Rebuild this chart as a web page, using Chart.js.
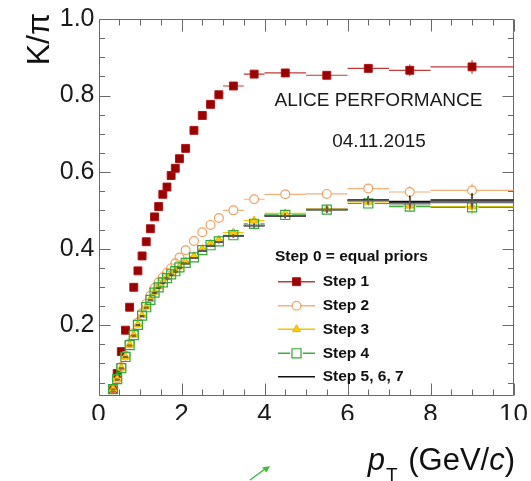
<!DOCTYPE html>
<html>
<head>
<meta charset="utf-8">
<script src="https://cdn.jsdelivr.net/npm/chart.js"></script>
<style>
  html, body { margin: 0; padding: 0; background: #ffffff; }
  #wrap { width: 531px; height: 481px; }
</style>
</head>
<body>
<div id="wrap"><canvas id="c" width="531" height="481"></canvas></div>
<script>
// pT bin edges (GeV/c); one value per bin in every series below
const binEdges = [0.3, 0.4, 0.5, 0.6, 0.7, 0.8, 0.9, 1.0, 1.1, 1.2, 1.3, 1.4, 1.5, 1.6, 1.7, 1.8, 1.9, 2.0,
                  2.2, 2.4, 2.6, 2.8, 3.0, 3.5, 4.0, 5.0, 6.0, 7.0, 8.0, 10.0];

// K/pi ratio after each Bayesian prior iteration
const step1 = [0.033, 0.074, 0.131, 0.187, 0.247, 0.299, 0.342, 0.381, 0.418, 0.452, 0.483, 0.510, 0.542, 0.561, 0.591, 0.610, 0.635,
               0.662, 0.709, 0.748, 0.777, 0.802, 0.825, 0.856, 0.859, 0.853, 0.871, 0.866, 0.875];
const step2 = [0.034, 0.061, 0.091, 0.120, 0.152, 0.179, 0.207, 0.232, 0.256, 0.277, 0.297, 0.312, 0.325, 0.337, 0.349, 0.362, 0.377,
               0.396, 0.420, 0.443, 0.462, 0.480, 0.500, 0.529, 0.542, 0.543, 0.557, 0.548, 0.552];
const step3 = [0.034, 0.060, 0.089, 0.118, 0.149, 0.175, 0.202, 0.226, 0.248, 0.268, 0.287, 0.301, 0.314, 0.325, 0.335, 0.343, 0.353,
               0.366, 0.380, 0.399, 0.413, 0.423, 0.442, 0.473, 0.492, 0.503, 0.522, 0.512, 0.510];
const step4 = [0.033, 0.059, 0.088, 0.117, 0.148, 0.174, 0.201, 0.225, 0.247, 0.266, 0.285, 0.299, 0.312, 0.323, 0.333, 0.341, 0.351,
               0.363, 0.377, 0.396, 0.409, 0.419, 0.435, 0.465, 0.488, 0.502, 0.518, 0.510, 0.508];
const step5 = [0.032, 0.058, 0.087, 0.116, 0.147, 0.173, 0.200, 0.224, 0.246, 0.265, 0.284, 0.298, 0.311, 0.322, 0.332, 0.340, 0.350,
               0.361, 0.375, 0.394, 0.407, 0.417, 0.433, 0.460, 0.485, 0.502, 0.527, 0.523, 0.527];
const step6 = [0.032, 0.058, 0.087, 0.116, 0.147, 0.173, 0.200, 0.224, 0.246, 0.265, 0.284, 0.298, 0.311, 0.322, 0.332, 0.340, 0.350,
               0.361, 0.375, 0.394, 0.407, 0.417, 0.433, 0.461, 0.486, 0.502, 0.526, 0.520, 0.524];
const step7 = [0.032, 0.058, 0.087, 0.116, 0.147, 0.173, 0.200, 0.224, 0.246, 0.265, 0.284, 0.298, 0.311, 0.322, 0.332, 0.340, 0.350,
               0.361, 0.375, 0.394, 0.407, 0.417, 0.433, 0.461, 0.486, 0.502, 0.525, 0.517, 0.520];

// statistical uncertainty per bin
const statErr = [0.001, 0.001, 0.001, 0.001, 0.001, 0.001, 0.001, 0.001, 0.001, 0.001, 0.001, 0.001, 0.001, 0.001, 0.001, 0.002, 0.002,
                 0.002, 0.002, 0.003, 0.003, 0.003, 0.004, 0.005, 0.006, 0.008, 0.010, 0.015, 0.018];

const xTickValues = [0, 2, 4, 6, 8, 10];
const yTickValues = [0.2, 0.4, 0.6, 0.8, 1.0];

const legendTitle = 'Step 0 = equal priors';
const seriesLabels = ['Step 1', 'Step 2', 'Step 3', 'Step 4', 'Step 5', 'Step 6', 'Step 7'];
const legendLabels = ['Step 1', 'Step 2', 'Step 3', 'Step 4', 'Step 5, 6, 7'];

const FONT = "'Liberation Sans', Arial, Helvetica, sans-serif";

// drawing styles, one per series
const styles = [
  { shape: 'rect',     radius: 5.6, fill: '#990000', border: '#b01515', borderWidth: 1,   line: '#c23a3a', lineWidth: 1.2, open: false },
  { shape: 'circle',   radius: 4.4, fill: 'rgba(0,0,0,0)', border: '#f2a062', borderWidth: 1.2, line: '#f4b07c', lineWidth: 1.2, open: true },
  { shape: 'triangle', radius: 4.6, fill: '#ffcc00', border: '#e8b400', borderWidth: 1,   line: '#f5c400', lineWidth: 1.2, open: false },
  { shape: 'rect',     radius: 6.4, fill: 'rgba(0,0,0,0)', border: '#35a835', borderWidth: 1.2, line: '#3aad3a', lineWidth: 1.2, open: true },
  { shape: 'none',     radius: 0,   fill: '#111', border: '#111', borderWidth: 1, line: '#111111', lineWidth: 1.5, open: false },
  { shape: 'none',     radius: 0,   fill: '#333', border: '#333', borderWidth: 1, line: '#3a3a3a', lineWidth: 1.2, open: false },
  { shape: 'none',     radius: 0,   fill: '#666', border: '#666', borderWidth: 1, line: '#6a6a6a', lineWidth: 1.2, open: false }
];
const seriesValues = [step1, step2, step3, step4, step5, step6, step7];

function binCenter(i) { return (binEdges[i] + binEdges[i + 1]) / 2; }

const datasets = seriesValues.map((vals, k) => {
  const st = styles[k];
  return {
    label: seriesLabels[k],
    data: vals.map((v, i) => ({ x: binCenter(i), y: v })),
    showLine: false,
    pointStyle: st.shape === 'none' ? 'circle' : st.shape,
    pointRadius: st.radius,
    pointHoverRadius: st.radius,
    backgroundColor: st.fill,
    borderColor: st.border,
    pointBorderWidth: st.borderWidth,
    borderWidth: st.borderWidth,
    order: 10 - k
  };
});

// horizontal bin-width bars and vertical stat. error bars, drawn under each series' markers
const binBars = {
  id: 'binBars',
  beforeDatasetDraw(chart, args) {
    const k = args.index;
    const st = styles[k];
    const xs = chart.scales.x, ys = chart.scales.y, ctx = chart.ctx;
    const gap = st.open ? st.radius : 0;
    ctx.save();
    ctx.strokeStyle = st.line;
    ctx.lineWidth = st.lineWidth;
    seriesValues[k].forEach((v, i) => {
      const x = xs.getPixelForValue(binCenter(i));
      const y = ys.getPixelForValue(v);
      const xl = xs.getPixelForValue(binEdges[i]);
      const xh = xs.getPixelForValue(binEdges[i + 1]);
      const yl = ys.getPixelForValue(v - statErr[i]);
      const yh = ys.getPixelForValue(v + statErr[i]);
      ctx.beginPath();
      if (gap > 0) {
        if (x - gap > xl) { ctx.moveTo(xl, y); ctx.lineTo(x - gap, y); }
        if (x + gap < xh) { ctx.moveTo(x + gap, y); ctx.lineTo(xh, y); }
        if (y - gap > yh) { ctx.moveTo(x, yh); ctx.lineTo(x, y - gap); }
        if (y + gap < yl) { ctx.moveTo(x, y + gap); ctx.lineTo(x, yl); }
      } else {
        ctx.moveTo(xl, y); ctx.lineTo(xh, y);
        ctx.moveTo(x, yh); ctx.lineTo(x, yl);
      }
      ctx.stroke();
    });
    ctx.restore();
  }
};

// frame on all four sides with inward ticks
const frameTicks = {
  id: 'frameTicks',
  beforeDatasetsDraw(chart) {
    const { ctx, chartArea: a } = chart;
    const xs = chart.scales.x, ys = chart.scales.y;
    const L = Math.round(a.left) + 0.5, R = Math.round(a.right) - 0.5;
    const T = Math.round(a.top) + 0.5, B = Math.round(a.bottom) - 0.5;
    ctx.save();
    ctx.strokeStyle = '#6a6a6a';
    ctx.lineWidth = 1;
    ctx.beginPath();
    ctx.rect(L, T, R - L, B - T);
    // x ticks every 0.5, major every 2
    for (let t = 0; t <= 20; t++) {
      const v = t * 0.5;
      const px = Math.round(xs.getPixelForValue(v)) + 0.5;
      const len = (t % 4 === 0) ? 12 : 6;
      ctx.moveTo(px, B); ctx.lineTo(px, B - len);
      ctx.moveTo(px, T); ctx.lineTo(px, T + len);
    }
    // y ticks every 0.05, major every 0.2
    for (let t = 1; t <= 20; t++) {
      const v = t * 0.05;
      const py = Math.round(ys.getPixelForValue(v)) + 0.5;
      const len = (t % 4 === 0) ? 11 : 5.5;
      ctx.moveTo(L, py); ctx.lineTo(L + len, py);
      ctx.moveTo(R, py); ctx.lineTo(R - len, py);
    }
    ctx.stroke();
    ctx.restore();
  }
};

function drawMarker(ctx, st, x, y) {
  if (st.shape === 'none') return;
  ctx.save();
  ctx.lineWidth = st.borderWidth;
  ctx.strokeStyle = st.border;
  ctx.fillStyle = st.fill;
  const r = st.radius;
  ctx.beginPath();
  if (st.shape === 'rect') {
    const s = r * Math.SQRT1_2;
    ctx.rect(x - s, y - s, 2 * s, 2 * s);
  } else if (st.shape === 'circle') {
    ctx.arc(x, y, r, 0, Math.PI * 2);
  } else if (st.shape === 'triangle') {
    let rad = 0;
    ctx.moveTo(x + Math.sin(rad) * r, y - Math.cos(rad) * r);
    rad += 2 * Math.PI / 3;
    ctx.lineTo(x + Math.sin(rad) * r, y - Math.cos(rad) * r);
    rad += 2 * Math.PI / 3;
    ctx.lineTo(x + Math.sin(rad) * r, y - Math.cos(rad) * r);
    ctx.closePath();
  }
  ctx.fill();
  ctx.stroke();
  ctx.restore();
}

// axis titles, legend and text annotations
const overlay = {
  id: 'overlay',
  afterDraw(chart) {
    const ctx = chart.ctx;
    ctx.save();

    // lower part of the x tick labels is cut off
    ctx.fillStyle = '#ffffff';
    ctx.fillRect(60, 420, 471, 22);

    ctx.fillStyle = '#111111';

    // y-axis title, rotated, aligned to the top of the axis
    ctx.save();
    ctx.translate(49, 13);
    ctx.rotate(-Math.PI / 2);
    ctx.font = `32px ${FONT}`;
    ctx.textAlign = 'right';
    ctx.textBaseline = 'alphabetic';
    ctx.fillText('K/\u03C0', 0, 0);
    ctx.restore();

    // x-axis title: p_T (GeV/c), right-aligned to the axis end
    const base = 469.5;
    const big = `31px ${FONT}`, bigIt = `italic 31px ${FONT}`, sub = `19px ${FONT}`;
    ctx.textBaseline = 'alphabetic';
    ctx.textAlign = 'left';
    let xr = 515;
    const pieces = [[')', big], ['c', bigIt], ['(GeV/', big]];
    for (const [txt, f] of pieces) {
      ctx.font = f;
      xr -= ctx.measureText(txt).width;
      ctx.fillText(txt, xr, base);
    }
    ctx.font = big;
    xr -= ctx.measureText(' ').width + 2;
    ctx.font = sub;
    xr -= ctx.measureText('T').width;
    ctx.fillText('T', xr, 481);
    ctx.font = bigIt;
    xr -= ctx.measureText('p').width + 1;
    ctx.fillText('p', xr, base);

    // performance label
    ctx.font = `19px ${FONT}`;
    ctx.textAlign = 'center';
    ctx.textBaseline = 'middle';
    ctx.fillStyle = '#1a1a1a';
    ctx.fillText('ALICE PERFORMANCE', 378.5, 100.5);
    ctx.fillText('04.11.2015', 379, 142);

    // legend
    ctx.textAlign = 'left';
    ctx.font = `bold 15.5px ${FONT}`;
    ctx.fillStyle = '#111111';
    ctx.fillText(legendTitle, 275, 257);
    const rowY = [281.7, 305.7, 329.3, 353.3, 376.7];
    legendLabels.forEach((lab, k) => {
      const st = styles[k];
      const y = rowY[k];
      const x0 = 278, x1 = 315, xm = 296.5;
      const gap = st.open ? st.radius : 0;
      ctx.save();
      ctx.strokeStyle = st.line;
      ctx.lineWidth = 1.5;
      ctx.beginPath();
      if (gap > 0) {
        ctx.moveTo(x0, y); ctx.lineTo(xm - gap, y);
        ctx.moveTo(xm + gap, y); ctx.lineTo(x1, y);
      } else {
        ctx.moveTo(x0, y); ctx.lineTo(x1, y);
      }
      ctx.stroke();
      ctx.restore();
      drawMarker(ctx, st, xm, y);
      ctx.fillStyle = '#111111';
      ctx.font = `bold 15.5px ${FONT}`;
      ctx.fillText(lab, 322.7, y);
    });

    // small green arrow below the axis
    ctx.strokeStyle = '#3cbf3c';
    ctx.fillStyle = '#3cbf3c';
    ctx.lineWidth = 1.5;
    ctx.beginPath();
    ctx.moveTo(250, 480);
    ctx.lineTo(265, 469);
    ctx.stroke();
    ctx.beginPath();
    ctx.moveTo(270, 466);
    ctx.lineTo(262, 467.5);
    ctx.lineTo(266.5, 472.5);
    ctx.closePath();
    ctx.fill();

    ctx.restore();
  }
};

Chart.defaults.font.family = FONT;

new Chart(document.getElementById('c'), {
  type: 'scatter',
  data: { datasets },
  options: {
    responsive: false,
    devicePixelRatio: 1,
    animation: false,
    events: [],
    layout: { padding: { top: 14, right: 15.5, bottom: 0, left: 0 } },
    plugins: { legend: { display: false }, tooltip: { enabled: false } },
    scales: {
      x: {
        type: 'linear',
        min: 0, max: 10,
        grid: { display: false, drawTicks: false },
        border: { display: false },
        afterBuildTicks: (s) => { s.ticks = xTickValues.map(v => ({ value: v })); },
        afterFit: (s) => { s.height = 85; },
        ticks: {
          autoSkip: false, maxRotation: 0, padding: 3,
          color: '#1a1a1a',
          font: { size: 26 },
          callback: (v) => String(v)
        }
      },
      y: {
        type: 'linear',
        min: 0.015, max: 1.0,
        grid: { display: false, drawTicks: false },
        border: { display: false },
        afterBuildTicks: (s) => { s.ticks = yTickValues.map(v => ({ value: v })); },
        afterFit: (s) => { s.width = 98.5; },
        ticks: {
          autoSkip: false, padding: 4,
          color: '#1a1a1a',
          font: { size: 25 },
          callback: (v) => Number(v).toFixed(1)
        }
      }
    }
  },
  plugins: [frameTicks, binBars, overlay]
});
</script>
</body>
</html>
